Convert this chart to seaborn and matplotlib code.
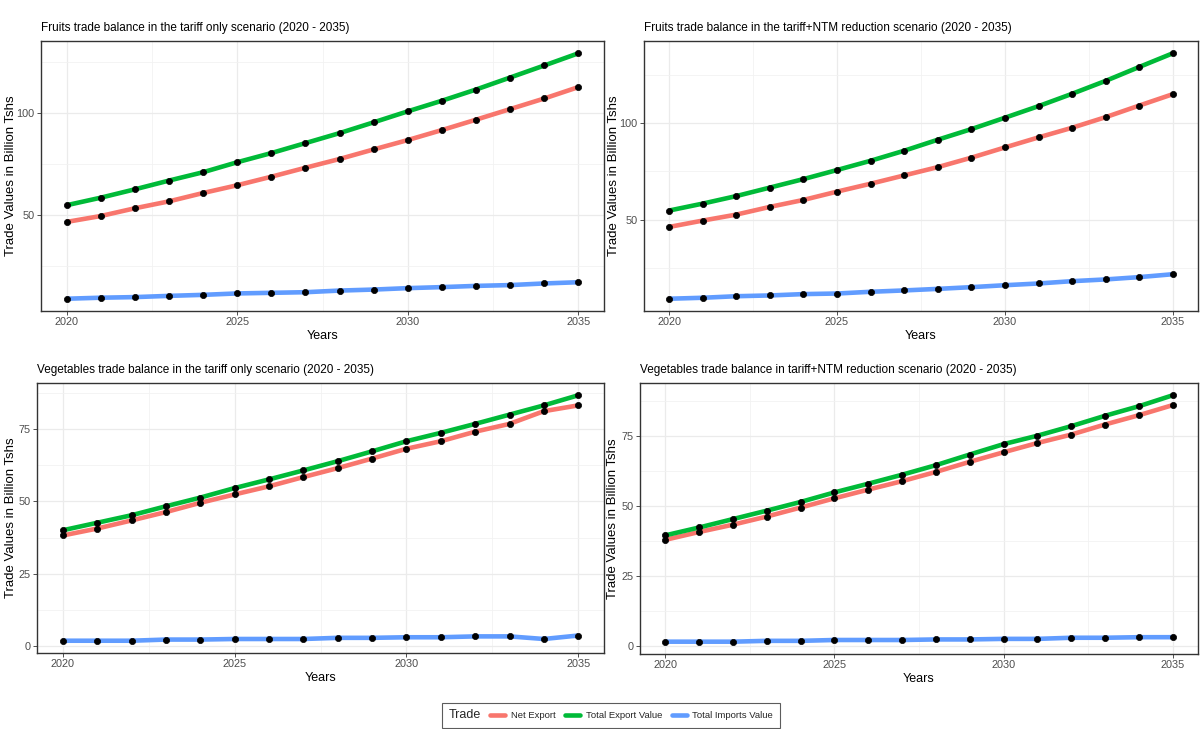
import pandas as pd
import seaborn as sns
import matplotlib.pyplot as plt
import numpy as np
from matplotlib.ticker import MultipleLocator
from matplotlib.lines import Line2D

years = list(range(2020, 2036))
trade_names = ['Net Export', 'Total Export Value', 'Total Imports Value']
trade_colors = ['#F8766D', '#00BA38', '#619CFF']

# Fruits - tariff only scenario
fruit_tariff_net = [46.4, 49.3, 53.1, 56.5, 60.6, 64.4, 68.6, 73.0, 77.3, 82.0,
                    86.6, 91.5, 96.6, 101.8, 107.0, 112.6]
fruit_tariff_exp = [54.6, 58.3, 62.4, 66.7, 70.8, 75.7, 80.2, 85.1, 90.0, 95.3,
                    100.7, 105.9, 111.4, 117.3, 123.2, 129.2]
fruit_tariff_imp = [8.7, 9.2, 9.5, 10.1, 10.6, 11.3, 11.6, 11.9, 12.7, 13.2,
                    13.9, 14.4, 15.0, 15.4, 16.2, 16.8]

# Fruits - tariff + NTM reduction scenario
fruit_ntm_net = [46.2, 49.5, 52.6, 56.6, 60.2, 64.5, 68.6, 72.9, 77.2, 82.1,
                 87.4, 92.6, 97.6, 103.1, 109.1, 115.0]
fruit_ntm_exp = [54.7, 58.3, 62.2, 66.6, 71.0, 75.7, 80.5, 85.7, 91.4, 96.9,
                 102.8, 108.8, 115.2, 121.9, 129.1, 136.2]
fruit_ntm_imp = [9.0, 9.5, 10.3, 10.7, 11.4, 11.7, 12.6, 13.3, 14.1, 15.0,
                 16.0, 16.9, 18.1, 19.0, 20.2, 21.7]

# Vegetables - tariff only scenario
veg_tariff_net = [38.2, 40.6, 43.4, 46.3, 49.5, 52.4, 55.2, 58.4, 61.5, 64.8,
                  68.2, 70.8, 74.1, 76.8, 81.2, 83.2]
veg_tariff_exp = [40.0, 42.6, 45.2, 48.3, 51.3, 54.6, 57.6, 60.7, 63.9, 67.3,
                  70.8, 73.7, 76.8, 80.0, 83.2, 86.7]
veg_tariff_imp = [1.8, 1.8, 1.8, 2.2, 2.2, 2.4, 2.4, 2.4, 2.8, 2.8,
                  3.0, 3.0, 3.3, 3.3, 2.4, 3.6]

# Vegetables - tariff + NTM reduction scenario
veg_ntm_net = [38.0, 40.8, 43.4, 46.3, 49.5, 52.8, 55.9, 58.9, 62.2, 65.8,
               69.2, 72.5, 75.5, 79.1, 82.4, 86.0]
veg_ntm_exp = [39.6, 42.4, 45.4, 48.4, 51.5, 54.9, 58.0, 61.2, 64.6, 68.4,
               72.1, 75.1, 78.5, 82.2, 85.6, 89.5]
veg_ntm_imp = [1.7, 1.7, 1.7, 2.0, 2.0, 2.3, 2.3, 2.3, 2.5, 2.5,
               2.7, 2.7, 3.1, 3.1, 3.3, 3.3]

titles = ['Fruits trade balance in the tariff only scenario (2020 - 2035)',
          'Fruits trade balance in the tariff+NTM reduction scenario (2020 - 2035)',
          'Vegetables trade balance in the tariff only scenario (2020 - 2035)',
          'Vegetables trade balance in tariff+NTM reduction scenario (2020 - 2035)']

sns.set_theme(style='white')
plt.rcParams['font.family'] = ['Liberation Sans', 'DejaVu Sans']

fig = plt.figure(figsize=(12, 7.29), dpi=100)
W, H = 1200, 729
# panel boxes in pixels: left, top, right, bottom
boxes = [(41, 41, 604, 311), (644, 41, 1198, 311),
         (37, 383, 604, 653), (640, 383, 1198, 654)]
ylab_off = [24, 24, 20, 21]
panels = [(fruit_tariff_net, fruit_tariff_exp, fruit_tariff_imp, 50),
          (fruit_ntm_net, fruit_ntm_exp, fruit_ntm_imp, 50),
          (veg_tariff_net, veg_tariff_exp, veg_tariff_imp, 25),
          (veg_ntm_net, veg_ntm_exp, veg_ntm_imp, 25)]

for (l, t, r, b), off, (net, exp, imp, major), title in zip(boxes, ylab_off, panels, titles):
    ax = fig.add_axes([l / W, 1 - b / H, (r - l) / W, (b - t) / H])
    df = pd.DataFrame({'Years': years * 3,
                       'Value': net + exp + imp,
                       'Trade': np.repeat(trade_names, len(years))})
    sns.lineplot(data=df, x='Years', y='Value', hue='Trade', palette=trade_colors,
                 linewidth=3.3, solid_capstyle='butt', ax=ax, legend=False)
    sns.scatterplot(data=df, x='Years', y='Value', color='black', s=20,
                    edgecolor='black', linewidth=0.5, ax=ax, legend=False, zorder=3)
    ax.margins(x=0.05, y=0.05)
    ax.xaxis.set_major_locator(MultipleLocator(5))
    ax.xaxis.set_minor_locator(MultipleLocator(2.5))
    ax.yaxis.set_major_locator(MultipleLocator(major))
    ax.yaxis.set_minor_locator(MultipleLocator(major / 2))
    ax.grid(which='major', color='#ebebeb', linewidth=0.9)
    ax.grid(which='minor', color='#f2f2f2', linewidth=0.6)
    ax.set_axisbelow(True)
    ax.tick_params(which='major', length=3, width=0.6, color='#333333',
                   labelcolor='#4d4d4d', labelsize=7.8, pad=1.5, bottom=True, left=True)
    ax.tick_params(which='minor', length=0)
    for s in ax.spines.values():
        s.set_color('#333333')
        s.set_linewidth(1.0)
    ax.set_title(title, loc='left', fontsize=8.5, pad=7, color='black')
    ax.set_xlabel('Years', fontsize=9, color='black', labelpad=2)
    ax.set_ylabel('Trade Values in Billion Tshs', fontsize=9.5, color='black')
    ax.yaxis.set_label_coords(-off / (r - l), 0.5)

handles = [Line2D([], [], color=c, linewidth=3.3) for c in trade_colors]
leg = fig.legend(handles, trade_names, title='Trade', ncol=3,
                 loc='lower center', bbox_to_anchor=(0.509, -0.005),
                 fontsize=6.8, title_fontsize=9, frameon=True, fancybox=False,
                 edgecolor='#333333', handlelength=1.6, handletextpad=0.6,
                 columnspacing=1.0, borderpad=0.7)
leg.get_frame().set_linewidth(0.8)
# put the legend title on the left, in line with the keys
box = leg.get_children()[0]
title_box, handle_box = box.get_children()
box._children = [handle_box]
handle_box._children = [title_box] + handle_box.get_children()
handle_box.align = 'center'

fig.savefig('out.png', dpi=100)
